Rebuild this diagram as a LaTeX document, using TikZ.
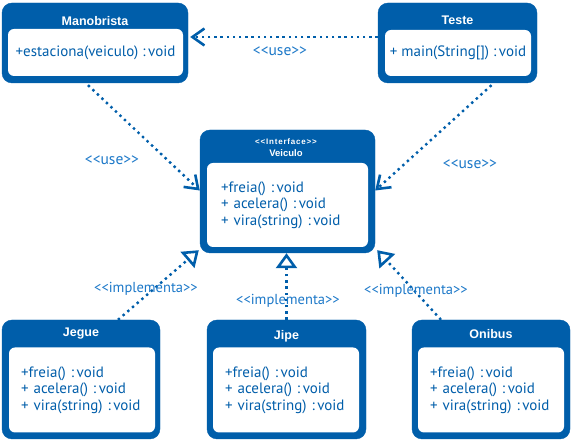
\documentclass[tikz,border=0pt]{standalone}
\usepackage{fontspec}
\setmainfont{PT Sans}
\newfontfamily\headfont{Liberation Sans}
\newfontfamily\stereofont[LetterSpace=10]{Liberation Sans}
\usetikzlibrary{positioning,arrows.meta}
\definecolor{umlblue}{RGB}{0,94,170}
\definecolor{labelblue}{RGB}{28,120,200}

\tikzset{
  classbox/.style={draw=umlblue, fill=umlblue, rounded corners=10pt, inner sep=0pt},
  classname/.style={text=white, font=\headfont\bfseries\fontsize{12.5}{14}\selectfont, inner sep=0pt},
  members/.style={fill=white, rounded corners=6pt, inner xsep=12pt, inner ysep=0pt,
    align=left, text=umlblue, font=\fontsize{15}{16.5}\selectfont},
  stereo/.style={text=labelblue, font=\fontsize{14.5}{15}\selectfont, inner sep=1pt},
  dots/.style={umlblue, line width=2.4pt, dash pattern=on 2.4pt off 3.8pt},
  uses/.style={dots, -{Straight Barb[length=12pt,width=17pt,line width=2.6pt]}},
  implements/.style={dots, -{Triangle[length=15pt,width=21pt,line width=2.6pt,fill=white]}}
}
\newcommand{\op}[2]{#1 :\kern2.5pt #2}

\begin{document}
\begin{tikzpicture}[x=1pt,y=-1pt]
\useasboundingbox (0,0) rectangle (574,443);

% classes of the top row
\node[classbox, minimum width=186pt, minimum height=80pt] (manobrista) at (95,43) {};
\node[classname] (manobrista-t) at (95,21) {Manobrista};
\node[members, align=center, inner xsep=0pt, minimum width=175pt, minimum height=47pt] (manobrista-m) at (95.5,52.5)
  {\op{+estaciona(veiculo)}{void}};

\node[classbox, minimum width=159pt, minimum height=80pt] (teste) at (457.5,43) {};
\node[classname] (teste-t) at (457.5,20) {Teste};
\node[members, align=center, inner xsep=0pt, minimum width=146pt, minimum height=46pt] (teste-m) at (458,53)
  {\op{+ main(String[])}{void}};

% interface
\node[classbox, minimum width=175pt, minimum height=123pt] (veiculo) at (287.5,191.5) {};
\node[classname, font=\stereofont\bfseries\fontsize{8}{9}\selectfont] (veiculo-s) at (286,142) {<{}<Interface>{}>};
\node[classname, font=\headfont\bfseries\fontsize{9.5}{11}\selectfont] (veiculo-t) at (286,153) {Veiculo};
\node[members, inner xsep=14pt, text width=133pt, minimum height=84pt] (veiculo-m) at (287.5,205)
  {\op{+freia()}{void}\\\op{+ acelera()}{void}\\\op{+ vira(string)}{void}};

% implementing classes
\node[classbox, minimum width=158pt, minimum height=119pt] (jegue) at (81,379.5) {};
\node[classname] (jegue-t) at (81,334) {Jegue};
\node[members, text width=122pt, minimum height=85pt] (jegue-m) at (82,390)
  {\op{+freia()}{void}\\\op{+ acelera()}{void}\\\op{+ vira(string)}{void}};

\node[classbox, minimum width=159pt, minimum height=119pt] (jipe) at (286.5,379.5) {};
\node[classname] (jipe-t) at (286.5,336) {Jipe};
\node[members, text width=122pt, minimum height=85pt] (jipe-m) at (286,390)
  {\op{+freia()}{void}\\\op{+ acelera()}{void}\\\op{+ vira(string)}{void}};

\node[classbox, minimum width=158pt, minimum height=119pt] (onibus) at (491,379.5) {};
\node[classname] (onibus-t) at (491,334) {Onibus};
\node[members, text width=122pt, minimum height=85pt] (onibus-m) at (491,390)
  {\op{+freia()}{void}\\\op{+ acelera()}{void}\\\op{+ vira(string)}{void}};

% dependencies
\draw[uses] ([yshift=6pt]teste.west) -- ([yshift=6pt,xshift=2pt]manobrista.east);
\draw[uses] ([xshift=-7pt,yshift=-2pt]manobrista.south) -- ([yshift=1pt]veiculo.west);
\draw[uses] ([xshift=34pt,yshift=-2pt]teste.south) -- ([yshift=1pt]veiculo.east);
\node[stereo, font=\fontsize{15.5}{16}\selectfont] (use-1) at (280,51) {<{}<use>{}>};
\node[stereo, font=\fontsize{15.5}{16}\selectfont] (use-2) at (112,160) {<{}<use>{}>};
\node[stereo, font=\fontsize{15.5}{16}\selectfont] (use-3) at (470,164) {<{}<use>{}>};

% realisations
\draw[implements] ([xshift=37pt]jegue.north) -- ([xshift=-1pt,yshift=3pt]veiculo.south west);
\draw[implements] (jipe.north) -- (jipe.north |- veiculo.south);
\draw[implements] ([xshift=-50pt]onibus.north) -- ([xshift=2pt,yshift=3pt]veiculo.south east);
\node[stereo] (impl-1) at (146,289) {<{}<implementa>{}>};
\node[stereo] (impl-2) at (288,301) {<{}<implementa>{}>};
\node[stereo] (impl-3) at (416,291) {<{}<implementa>{}>};
\end{tikzpicture}
\end{document}
